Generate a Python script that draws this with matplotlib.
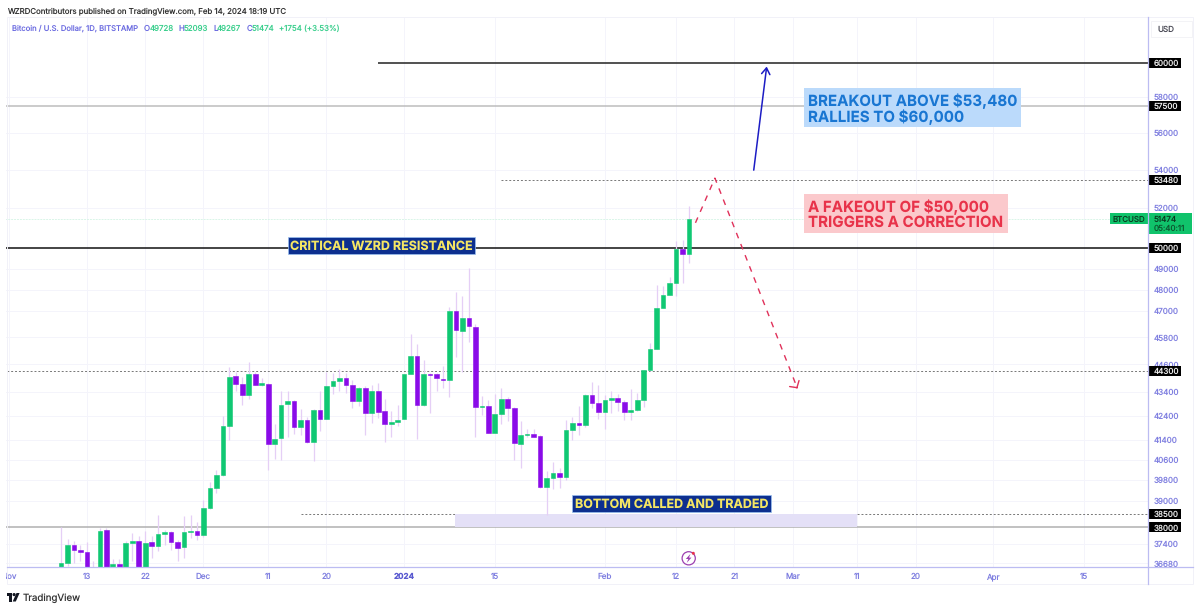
import numpy as np
import pandas as pd
import matplotlib
matplotlib.use('Agg')
import matplotlib.pyplot as plt
from matplotlib.patches import Rectangle, Circle, Polygon
from matplotlib.transforms import Bbox

plt.rcParams['font.family'] = ['Inter', 'DejaVu Sans']
plt.rcParams['text.hinting'] = 'no_hinting'

# daily candles, 2023-11-09 to 2024-02-14
start_date = '2023-11-09'
opens = [36458, 36700, 37360, 37155, 37095, 36400, 36300, 37905, 36520, 36640, 36400, 37420, 37485, 36400,
         37440, 37315, 37755, 37815, 37455, 37280, 37830, 37870, 37730, 38715, 39485, 39990, 41990, 44100,
         43770, 43285, 44200, 43710, 43770, 41225, 41485, 42890, 43045, 41950, 42237, 41335, 42665, 42265,
         43670, 43870, 44015, 43725, 43020, 43585, 42515, 43470, 42600, 42055, 42140, 42265, 44190, 44960,
         42860, 44190, 44190, 43985, 43940, 47020, 46105, 46680, 46290, 42775, 42830, 41690, 42490, 43130,
         42725, 41240, 41610, 41660, 41565, 39540, 39875, 40070, 39915, 41810, 42125, 42015, 43300, 42930,
         42555, 43074, 43170, 42990, 42570, 42654, 43085, 44350, 45295, 47160, 47760, 48300, 49935, 49728]
highs = [38000, 37570, 37480, 37330, 37440, 36760, 37980, 37980, 36820, 36850, 37485, 37795, 37670, 37855,
         37670, 38450, 37890, 37855, 37547, 38415, 38480, 38190, 39020, 39720, 40216, 42400, 44480, 44290,
         44070, 44725, 44290, 44000, 43810, 42070, 43430, 43430, 43074, 42680, 42375, 42695, 43457, 44290,
         44245, 44390, 44215, 43928, 43640, 43670, 43710, 43810, 43100, 42585, 42860, 44200, 45955, 45505,
         44800, 44230, 44245, 44510, 47200, 47870, 47715, 49050, 46430, 43245, 43074, 43330, 43570, 43200,
         42790, 42180, 41855, 41855, 41620, 40150, 40505, 40280, 42237, 42375, 42820, 43330, 43855, 43710,
         43285, 43430, 43330, 43074, 43530, 43355, 44370, 45540, 48220, 48170, 48600, 50345, 50394, 52093]
lows = [36390, 36575, 36700, 36760, 36390, 36200, 36200, 36200, 36300, 36350, 36300, 36760, 36300, 36300,
        36880, 37115, 37360, 37180, 36760, 36880, 37610, 37520, 37645, 38700, 39305, 39985, 41417, 43430,
        42860, 43100, 43700, 43670, 40190, 40650, 40612, 41520, 41660, 41620, 41300, 40545, 41795, 42260,
        43315, 43430, 43355, 42725, 42820, 41620, 42125, 42305, 41345, 41550, 42000, 42260, 44180, 41460,
        42830, 42515, 43430, 43600, 43215, 44930, 44290, 45610, 41550, 42445, 41680, 41680, 42070, 42180,
        40612, 40280, 41520, 41520, 39500, 38480, 39470, 39500, 39823, 41417, 41620, 41960, 42725, 42265,
        41855, 42540, 42585, 42237, 42237, 42585, 42770, 44300, 45280, 47130, 47745, 47690, 48315, 49267]
closes = [36700, 37330, 37155, 37080, 36520, 36520, 37880, 36300, 36640, 36520, 37420, 37485, 36400, 37420,
          37300, 37745, 37815, 37455, 37255, 37840, 37880, 37720, 38715, 39485, 39990, 41990, 44070, 43770,
          43285, 44190, 43710, 43785, 41255, 41460, 42870, 43030, 41935, 42250, 41345, 42654, 42265, 43670,
          43870, 44000, 43725, 43030, 43585, 42515, 43470, 42570, 42070, 42140, 42250, 44190, 44960, 42860,
          44190, 44160, 44000, 43940, 47005, 46120, 46680, 46320, 42790, 42830, 41710, 42490, 43130, 42725,
          41270, 41600, 41670, 41550, 39540, 39875, 40070, 39915, 41810, 42125, 42015, 43300, 42930, 42555,
          43060, 43170, 42990, 42570, 42654, 43085, 44350, 45295, 47160, 47760, 48300, 49935, 49728, 51474]

# axis ticks
x_tick_dates = ['2023-11-01', '2023-11-13', '2023-11-22', '2023-12-01', '2023-12-11', '2023-12-20', '2024-01-01',
                '2024-01-15', '2024-02-01', '2024-02-12', '2024-02-21', '2024-03-01', '2024-03-11', '2024-03-20',
                '2024-04-01', '2024-04-15']
x_tick_labels = ['Nov', '13', '22', 'Dec', '11', '20', '2024', '15', 'Feb', '12', '21', 'Mar', '11', '20', 'Apr', '15']
y_tick_values = [58000, 56000, 54000, 52000, 49000, 48000, 47000, 45800, 44600, 43400, 42400, 41400, 40600,
                 39800, 39000, 37400, 36680]

# horizontal levels drawn on the chart
solid_levels = [60000, 57500, 50000, 38000]
solid_starts = ['2023-12-28', '2023-10-01', '2023-10-01', '2023-10-01']
solid_colors = ['#222222', '#bdbdbd', '#111111', '#b0b0b0']
dotted_levels = [53480, 44300, 38500]
dotted_starts = ['2024-01-16', '2023-10-01', '2023-12-16']
tag_levels = [60000, 57500, 53480, 50000, 44300, 38500, 38000]

last_close = 51474
zone_low, zone_high = 38000, 38500
zone_dates = ['2024-01-08 22:00', '2024-03-11 00:00']

# drawn scenario paths
breakout_dates = ['2024-02-24', '2024-02-26']
breakout_prices = [53982, 59767]
fakeout_dates = ['2024-02-15 00:00', '2024-02-18 00:00', '2024-03-01 18:00']
fakeout_prices = [51260, 53560, 43560]

GREEN = '#10c873'
PURPLE = '#8a0be8'
WICK = '#e5cff6'
TICK = '#7f7fe0'
GRID = '#f4f4fb'
AXIS_LINE = '#bcbcf2'

day = pd.Timedelta(days=1)


def ts(values):
    return pd.to_datetime(values)


def draw_candles(ax):
    dates = pd.date_range(start_date, periods=len(closes))
    o, c = np.array(opens), np.array(closes)
    colors = [GREEN if a >= b else PURPLE for a, b in zip(c, o)]
    ax.vlines(dates, lows, highs, color=WICK, lw=0.9, zorder=4)
    ax.bar(dates, np.abs(c - o), bottom=np.minimum(o, c), width=0.72, color=colors,
           edgecolor=colors, lw=0.4, zorder=5)


def draw_levels(ax):
    right = ts('2024-06-01')
    for price, begin, color in zip(solid_levels, solid_starts, solid_colors):
        ax.hlines(price, ts(begin), right, color=color, lw=1.1, zorder=2)
    for price, begin in zip(dotted_levels, dotted_starts):
        ax.hlines(price, ts(begin), right, color='#777777', lw=0.7, linestyles=[(0, (2, 2))], zorder=2)
    ax.hlines(last_close, ts('2023-10-01'), right, color='#d9f5e8', lw=0.7, linestyles=[(0, (2, 1))], zorder=1)
    ax.fill_between(ts(zone_dates), zone_low, zone_high, color='#e4e0f7', lw=0, zorder=3)


def draw_paths(ax):
    ax.annotate('', xy=(ts(breakout_dates[1]), breakout_prices[1]), xytext=(ts(breakout_dates[0]), breakout_prices[0]),
                arrowprops=dict(arrowstyle='->,head_length=0.45,head_width=0.3', color='#1c1cc4', lw=1.1,
                                shrinkA=0, shrinkB=0), zorder=6)
    red = '#e0315a'
    ax.plot(ts(fakeout_dates), fakeout_prices, color=red, lw=1.0, linestyle=(0, (4.2, 4.4)), zorder=6)
    # head only, the shaft is the dashed line above
    ax.annotate('', xy=(ts(fakeout_dates[2]), fakeout_prices[2]),
                xytext=(ts(fakeout_dates[2]) - 0.1 * day, fakeout_prices[2] * 1.001),
                arrowprops=dict(arrowstyle='->,head_length=0.35,head_width=0.4', color=red, lw=1.0,
                                shrinkA=0, shrinkB=0), zorder=6)


def setup_axes(ax):
    ax.set_yscale('log')
    ax.set_ylim(36560, 62750)
    origin = ts('2023-11-13')
    ax.set_xlim(origin - 12.5 * day, origin + 163.9 * day)
    ax.yaxis.tick_right()
    ax.set_yticks(y_tick_values, [str(v) for v in y_tick_values])
    ax.set_yticks([], minor=True)
    ax.set_xticks(ts(x_tick_dates), x_tick_labels)
    ax.tick_params(axis='both', which='both', length=0, labelsize=5.8, labelcolor=TICK)
    ax.tick_params(axis='y', pad=3.8)
    ax.tick_params(axis='x', pad=4.6)
    ax.grid(True, color=GRID, lw=0.7)
    ax.set_axisbelow(True)
    for spine in ax.spines.values():
        spine.set_visible(False)
    for label in ax.get_xticklabels():
        if label.get_text() == '2024':
            label.set_fontweight('bold')
            label.set_color('#5a5ad0')
        if label.get_text() == 'Nov':
            # first label is cut by the left edge of the chart
            label.set_clip_on(True)
            label.set_clip_box(Bbox([[6, 0], [1148, 608]]))


def price_to_row(ax, price):
    return 608 - ax.transData.transform((ax.get_xlim()[0], price))[1]


def label_box(ov, x0, x1, y0, y1, color, edge='none'):
    ov.add_patch(Rectangle((x0, y0), x1 - x0, y1 - y0, fc=color, ec=edge, lw=0.5))


def draw_overlay(ov, ax):
    # chart frame
    ov.add_patch(Rectangle((6.5, 17), 1186.5, 567, fc='none', ec='#f1f1f8', lw=0.7))
    ov.plot([1148, 1148], [17, 584], color=AXIS_LINE, lw=0.9)
    ov.plot([6.5, 1193], [566.7, 566.7], color=AXIS_LINE, lw=0.9)

    # price tags on the scale
    for price in tag_levels:
        row = price_to_row(ax, price)
        label_box(ov, 1148, 1181, row - 5, row + 5, 'black')
        ov.text(1153.3, row, str(price), color='#eeeeee', fontsize=5.8, va='center_baseline', ha='left')

    row = price_to_row(ax, last_close)
    label_box(ov, 1110, 1148, row - 5.5, row + 5.5, '#10c36b')
    label_box(ov, 1148, 1191.5, row - 5.5, row + 15, '#10c36b')
    ov.text(1112.5, row, 'BTCUSD', color='#0b3a20', fontsize=5.7, va='center_baseline')
    ov.text(1153.3, row, '51474', color='#0b3a20', fontsize=5.8, va='center_baseline')
    ov.text(1153.3, row + 9.7, '05:40:11', color='#0b5a30', fontsize=5.8, va='center_baseline')

    # USD button
    ov.add_patch(Rectangle((1151, 21), 41, 16, fc='white', ec='#f1f1f5', lw=0.6))
    ov.text(1157, 28.7, 'USD', color='#4a4a55', fontsize=5.8, va='center_baseline')

    # comment boxes
    label_box(ov, 804, 1021, 88, 127, '#bbdafb')
    ov.text(808, 100, 'BREAKOUT ABOVE $53,480', color='#1976d2', fontsize=10.9, fontweight='bold', va='center_baseline')
    ov.text(808, 115.7, 'RALLIES TO $60,000', color='#1976d2', fontsize=10.9, fontweight='bold', va='center_baseline')
    label_box(ov, 804, 1008, 194, 233, '#fbc9cc')
    ov.text(808, 206, 'A FAKEOUT OF $50,000', color='#e8334a', fontsize=10.9, fontweight='bold', va='center_baseline')
    ov.text(808, 221.7, 'TRIGGERS A CORRECTION', color='#e8334a', fontsize=10.9, fontweight='bold', va='center_baseline')

    label_box(ov, 288, 475, 237, 254, '#0d2f8f', edge='#9ac0f0')
    ov.text(381.5, 245.5, 'CRITICAL WZRD RESISTANCE', color='#f5e663', fontsize=9, fontweight='bold',
            ha='center', va='center_baseline')
    label_box(ov, 572, 771, 495, 512, '#0d2f8f', edge='#9ac0f0')
    ov.text(671.5, 503.5, 'BOTTOM CALLED AND TRADED', color='#f5e663', fontsize=9, fontweight='bold',
            ha='center', va='center_baseline')

    # header
    ov.text(7, 10.5, 'WZRDContributors published on TradingView.com, Feb 14, 2024 18:19 UTC', color='#333333',
            fontsize=5.65, va='center_baseline')
    ov.text(12, 28, 'Bitcoin / U.S. Dollar, 1D, BITSTAMP', color='#6a6ae0', fontsize=5.5, va='center_baseline')
    for x, letter in zip([144, 178.3, 213, 246.7], 'OHLC'):
        ov.text(x, 28, letter, color='#6a6ae0', fontsize=5.7, va='center_baseline')
    for x, value in zip([149.7, 184, 217, 251.7, 279], ['49728', '52093', '49267', '51474', '+1754 (+3.53%)']):
        ov.text(x, 28, value, color='#3ccf8e', fontsize=5.7, va='center_baseline')

    # lightning marker
    ov.add_patch(Circle((688.7, 558.3), 6.6, fc='white', ec='#9c3fb0', lw=0.9))
    ov.add_patch(Polygon([(690.5, 553.8), (685.8, 559), (688.3, 559), (686.8, 562.8), (691.5, 557.6), (689, 557.6)],
                         fc='#9c3fb0', ec='none'))
    ov.add_patch(Circle((693.3, 553.3), 1.5, fc='#e8334a', ec='none'))

    # TradingView logo
    dark = '#131722'
    ov.add_patch(Polygon([(6.7, 593), (12.3, 593), (12.3, 601.5), (9.4, 601.5), (9.4, 596), (6.7, 596)], fc=dark, ec='none'))
    ov.add_patch(Circle((14.1, 594.6), 1.6, fc=dark, ec='none'))
    ov.add_patch(Polygon([(16.5, 593), (19.6, 593), (15.8, 601.5), (12.7, 601.5)], fc=dark, ec='none'))
    ov.text(22.5, 597, 'TradingView', color='#333333', fontsize=7, va='center_baseline')


def main():
    fig = plt.figure(figsize=(12, 6.08), dpi=100, facecolor='white')
    ax = fig.add_axes([6 / 1200, (608 - 566.7) / 608, 1142 / 1200, 549.7 / 608])
    setup_axes(ax)
    draw_levels(ax)
    draw_candles(ax)
    draw_paths(ax)
    setup_axes(ax)

    ov = fig.add_axes([0, 0, 1, 1], facecolor='none')
    ov.set_xlim(0, 1200)
    ov.set_ylim(608, 0)
    ov.axis('off')
    draw_overlay(ov, ax)

    fig.savefig('out.png', dpi=100)


main()
